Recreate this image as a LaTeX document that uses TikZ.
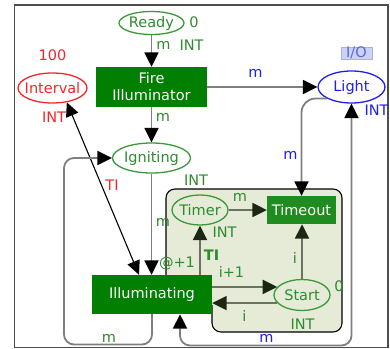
\documentclass[tikz,border=0pt]{standalone}
\usepackage{fontspec}
\setmainfont{DejaVu Sans}
\usetikzlibrary{shapes.geometric,arrows.meta,calc}
\definecolor{pgreen}{HTML}{3A9A3A}
\definecolor{tgreen}{HTML}{2E8B2E}
\definecolor{trfill}{HTML}{007F00}
\definecolor{tofill}{HTML}{1E8C1E}
\definecolor{pred}{HTML}{F02828}
\definecolor{pblue}{HTML}{2020E8}
\definecolor{arcgray}{HTML}{7F7F7F}
\definecolor{inline}{HTML}{6A7360}
\definecolor{intip}{HTML}{1C2614}
\definecolor{boxfill}{HTML}{E5EBD7}
\definecolor{iofill}{HTML}{CCD3F2}
\definecolor{iodraw}{HTML}{A8B2E8}
\definecolor{iotext}{HTML}{5A68D8}
\definecolor{framec}{HTML}{4D4D4D}
\begin{document}
\begin{tikzpicture}[x=1pt,y=-1pt,font=\fontsize{14.5}{17}\selectfont,
  pnplace/.style={ellipse, draw=pgreen, text=tgreen, line width=1.3pt, inner xsep=-14pt, inner ysep=0pt},
  pntrans/.style={rectangle, fill=trfill, text=white, inner sep=0pt, align=center},
  arc/.style={draw=arcgray, line width=1.8pt, -{Triangle[length=14.5pt,width=14pt,color=black]}},
  biarc/.style={draw=arcgray, line width=1.8pt, {Triangle[length=14.5pt,width=14pt,color=black]}-{Triangle[length=14.5pt,width=14pt,color=black]}},
  thinbiarc/.style={draw=black, line width=1.1pt, {Triangle[length=14pt,width=13pt,color=black]}-{Triangle[length=14pt,width=13pt,color=black]}},
  inarc/.style={draw=inline, line width=1.8pt, -{Triangle[length=14.5pt,width=14pt,color=intip]}},
  lbl/.style={inner sep=0pt},
  glbl/.style={lbl, text=tgreen},
  rlbl/.style={lbl, text=pred},
  blbl/.style={lbl, text=pblue}]
\useasboundingbox (0,0) rectangle (390,348);
\draw[framec, line width=1.3pt] (14.5,5) rectangle (388,347.5);
% page box
\fill[boxfill, rounded corners=9pt] (166,300) -- (166,189) -- (342,189) -- (342,332) -- (212,332) -- (212,300) -- cycle;
\draw[black, line width=1.1pt, rounded corners=9pt] (166,290) -- (166,189) -- (342,189) -- (342,332) -- (212,332) -- (212,305);
% nodes
\node[pnplace, minimum width=65pt, minimum height=23pt] (ready) at (151.5,23) {Ready};
\node[pntrans, minimum width=111pt, minimum height=40pt] (fire) at (151.5,87) {Fire\\Illuminator};
\node[pnplace, draw=pred, text=pred, minimum width=69pt, minimum height=30pt] (interval) at (52.5,88) {Interval};
\node[pnplace, draw=pblue, text=pblue, minimum width=67pt, minimum height=32pt] (light) at (351.5,87) {Light};
\node[pnplace, minimum width=78pt, minimum height=30pt] (igniting) at (151.5,158) {Igniting};
\node[pnplace, minimum width=56pt, minimum height=30pt] (timer) at (200,210) {Timer};
\node[pntrans, fill=tofill, minimum width=69pt, minimum height=28pt] (timeout) at (301.5,210) {Timeout};
\node[pnplace, minimum width=56pt, minimum height=31pt] (start) at (302,295) {Start};
\node[pntrans, minimum width=120pt, minimum height=39pt] (illum) at (152,294.5) {Illuminating};
\node[fill=iofill, draw=iodraw, text=iotext, inner sep=0pt, minimum width=31pt, minimum height=12pt] (io) at (356.5,53) {I/O};
% coordinates
\coordinate (ia) at ($(illum.north)+(-13,0)$);
\coordinate (ib) at ($(illum.south)+(28,0)$);
\coordinate (lp1) at (64,344.5);
\coordinate (lp2) at (351.5,345.5);
% arcs
\draw[arc] (ready) -- (fire);
\draw[arc] (fire) -- (igniting);
\draw[arc] (fire) -- (light);
\draw[arc] (igniting.south) -- (igniting.south |- illum.north);
\draw[thinbiarc] (interval.-45) -- (ia);
\draw[arc, rounded corners=10pt] (illum.south) |- (lp1) |- (igniting.west);
\draw[biarc, rounded corners=10pt] (ib) |- (lp2) -- (light.south);
\draw[arc, rounded corners=14pt] (light.-155) -| (timeout.north);
\draw[inarc] (timer) -- (timeout);
\draw[inarc] (illum.north -| timer.south) -- (timer.south);
\draw[inarc] (illum.east |- start.162) -- (start.162);
\draw[inarc] (start.198) -- (illum.east |- start.198);
\draw[inarc] (start.north) -- (start.north |- timeout.south);
% labels
\node[glbl] at (194,22) {0};
\node[glbl] at (191.5,45) {INT};
\node[glbl] at (163.5,45) {m};
\node[glbl] at (163,117) {m};
\node[rlbl] at (52.5,55) {100};
\node[rlbl] at (54,117) {INT};
\node[rlbl] at (112,185) {TI};
\node[blbl] at (255.5,73) {m};
\node[blbl] at (376.5,110) {INT};
\node[blbl] at (290.5,155) {m};
\node[glbl] at (196,180) {INT};
\node[glbl] at (163,222) {m};
\node[glbl] at (177,263) {@+1};
\node[glbl] at (224.5,232) {INT};
\node[glbl, font=\fontsize{14.5}{17}\selectfont\bfseries] at (211.5,255) {TI};
\node[glbl] at (240,197) {m};
\node[glbl] at (231.5,272) {i+1};
\node[glbl] at (244.5,316) {i};
\node[glbl] at (295,258) {i};
\node[glbl] at (339,286) {0};
\node[glbl] at (302.5,324) {INT};
\node[blbl] at (266.5,338) {m};
\node[glbl] at (109,338) {m};
\end{tikzpicture}
\end{document}
